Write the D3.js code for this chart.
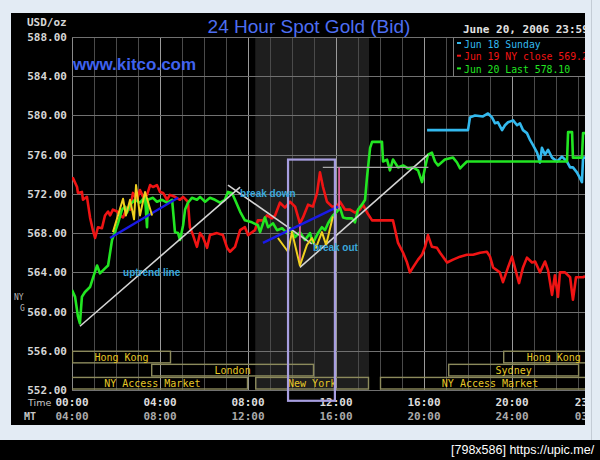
<!DOCTYPE html>
<html><head><meta charset="utf-8">
<script src="https://cdn.jsdelivr.net/npm/d3@7"></script>
<style>html,body{margin:0;padding:0;background:#e3ebf4;}svg{display:block}</style>
</head><body><svg id="c" width="600" height="460"></svg>
<script>
// ---------- data ----------
const yTicks = [588,584,580,576,572,568,564,560,556,552];
const yTickLabels = ["588.00","584.00","580.00","576.00","572.00","568.00","564.00","560.00","556.00","552.00"];
const xTickHours = [0,4,8,12,16,20,23.6];
const xTickLabels = ["00:00","04:00","08:00","12:00","16:00","20:00","23:59"];
const xTickLabels2 = ["04:00","08:00","12:00","16:00","20:00","24:00","03:59"];
const seriesNames = ["Jun 18 Sunday","Jun 19 NY close 569.2","Jun 20 Last 578.10"];
const seriesColors = ["#33b9ee","#f01414","#22e622"];

// Jun 18 Sunday [hour, price]
const jun18 = [[16.14,578.5],[18.0,578.5],[18.09,579.8],[18.32,580.0],[18.68,579.9],[18.91,580.2],[19.09,579.8],[19.23,579.2],[19.36,579.3],[19.55,578.5],[19.68,579.0],[19.82,579.3],[20.05,579.5],[20.23,579.0],[20.36,579.2],[20.5,578.5],[20.68,578.2],[20.82,577.5],[20.95,577.0],[21.14,576.2],[21.27,575.2],[21.36,576.7],[21.5,576.0],[21.64,576.5],[21.82,575.7],[22.05,575.3],[22.27,575.8],[22.5,575.3],[22.64,574.7],[22.77,574.7],[22.95,574.2],[23.09,573.6],[23.18,573.2],[23.23,575.7],[23.32,575.7]];

// Jun 19 [hour, price]
const jun19 = [[0,573.4],[0.05,573.6],[0.23,572.7],[0.27,572.1],[0.45,572.2],[0.5,571.4],[0.68,571.7],[0.82,569.6],[0.95,568.3],[1.05,567.5],[1.18,568.6],[1.36,568.5],[1.5,569.8],[1.64,570.2],[1.73,569.8],[1.86,570.4],[2.05,570.2],[2.18,569.8],[2.32,569.6],[2.5,570.6],[2.64,570.4],[2.77,572.1],[2.95,571.4],[3.09,572.4],[3.23,571.7],[3.41,571.9],[3.55,572.9],[3.68,572.7],[3.86,572.9],[4.0,572.2],[4.14,572.1],[4.32,571.4],[4.45,571.9],[4.68,571.7],[4.91,571.4],[5.05,571.7],[5.27,571.2],[5.36,568.6],[5.5,567.8],[5.68,566.6],[5.82,568.0],[5.95,567.6],[6.14,566.5],[6.27,567.8],[6.59,568.0],[6.86,567.8],[7.05,566.5],[7.18,566.1],[7.41,566.6],[7.64,568.3],[7.86,568.6],[8.0,567.8],[8.32,568.3],[8.45,569.3],[8.68,569.3],[8.86,569.8],[9.09,569.5],[9.23,569.8],[9.45,571.1],[9.68,570.6],[9.91,571.2],[10.14,570.7],[10.36,569.0],[10.5,569.6],[10.73,570.9],[10.95,570.7],[11.14,572.1],[11.27,574.2],[11.41,572.7],[11.59,571.2],[11.82,570.7],[12.05,570.7],[12.18,571.2],[12.41,570.4],[12.64,570.4],[12.86,570.1],[13.09,570.4],[13.23,570.9],[13.41,570.1],[13.64,569.3],[14.59,569.3],[14.82,567.0],[15.05,566.0],[15.23,565.0],[15.36,564.0],[15.5,564.5],[15.73,565.3],[15.91,565.8],[16.05,566.6],[16.18,567.8],[16.36,566.6],[16.59,566.5],[16.73,566.0],[17.05,565.0],[17.32,565.3],[17.64,565.6],[17.95,565.8],[18.23,565.8],[18.55,566.0],[18.86,566.1],[19.0,565.6],[19.14,564.5],[19.45,564.0],[19.59,563.0],[19.82,564.5],[20.0,565.6],[20.14,564.4],[20.32,562.9],[20.5,564.5],[20.68,565.5],[20.91,565.0],[21.05,565.1],[21.27,564.0],[21.5,565.1],[21.64,564.2],[21.82,561.7],[21.95,563.7],[22.09,561.5],[22.18,564.0],[22.41,564.0],[22.64,563.5],[22.77,561.2],[22.91,563.5],[23.23,563.5],[23.32,563.6]];

// Jun 20 [hour, price]
const jun20 = [[0,562.2],[0.14,561.5],[0.27,559.5],[0.36,558.8],[0.45,561.5],[0.59,562.0],[0.82,562.5],[0.95,563.4],[1.14,564.7],[1.27,563.9],[1.5,564.4],[1.64,564.7],[1.73,566.0],[1.82,567.3],[1.95,568.1],[2.09,569.0],[2.27,570.4],[2.41,570.7],[2.5,570.1],[2.64,570.9],[2.86,571.4],[3.09,571.1],[3.32,571.7],[3.41,568.6],[3.45,571.4],[3.68,571.6],[3.86,571.2],[4.09,571.4],[4.32,571.1],[4.55,571.4],[4.68,568.1],[4.82,568.0],[4.91,567.3],[5.05,568.8],[5.14,570.4],[5.27,571.1],[5.45,571.6],[5.68,571.4],[5.82,571.7],[6.05,571.2],[6.27,571.6],[6.5,571.4],[6.73,571.1],[6.95,571.4],[7.09,572.2],[7.27,572.1],[7.41,571.4],[7.64,570.2],[7.86,569.3],[8.18,569.1],[8.45,568.8],[8.55,568.1],[8.77,569.6],[8.91,568.6],[9.14,569.0],[9.32,568.3],[9.55,568.5],[9.77,568.0],[9.91,568.5],[10.14,567.6],[10.36,568.1],[10.59,567.3],[10.82,568.0],[10.95,567.0],[11.18,568.0],[11.36,568.6],[11.5,568.3],[11.64,569.0],[11.86,569.8],[12.05,570.2],[12.18,570.6],[12.32,569.6],[12.5,569.5],[12.73,569.5],[12.86,569.1],[13.0,570.4],[13.18,570.9],[13.32,571.4],[13.41,573.7],[13.55,576.7],[13.64,577.3],[14.09,577.3],[14.14,575.3],[14.32,575.5],[14.45,574.4],[14.59,575.5],[14.82,574.7],[15.05,574.9],[15.27,574.6],[15.5,574.7],[15.73,574.4],[15.91,573.2],[16.05,574.7],[16.18,576.0],[16.36,576.2],[16.5,575.3],[16.64,574.9],[16.95,575.5],[17.32,575.7],[17.5,575.2],[17.64,574.6],[17.77,574.9],[17.95,575.3],[22.5,575.3],[22.55,578.3],[22.73,578.3],[22.77,575.7],[23.18,575.7],[23.23,578.2],[23.32,578.2]];

// trading sessions [row, start hour, end hour]
const sessionNames = ["Hong Kong","London","NY Access Market","New York","NY Access Market","Sydney","Hong Kong"];
const sessionRows  = [0,1,2,2,2,1,0];
const sessionStart = [0,3.6,-0.7,8.33,14.0,17.1,19.6];
const sessionEnd   = [4.5,11.0,8.0,13.5,24.0,23.05,24.2];
const nyShade = [8.33,13.5];

// hand-drawn annotations (hour, price)
const grayLines = [[[0.36,558.5],[7.64,572.7]],[[7.09,572.9],[10.9,566.9]],[[10.36,564.5],[16.18,576.0]]];
const hLine = [[11.4,574.7],[16.2,574.7]];
const pinkLines = [[[12.14,574.7],[12.14,570.4]],[[10.36,569.0],[10.36,564.7]]];
const blueLines = [[[1.73,567.5],[4.82,571.6]],[[8.68,567.0],[12.09,570.7]]];
const yellow1 = [[1.86,568.1],[2.32,571.5],[2.45,569.8],[2.64,571.4],[2.82,569.4],[2.91,572.9],[3.09,569.8],[3.32,572.2],[3.64,569.8]];
const yellow2 = [[9.36,567.5],[9.82,566.1],[10.0,568.1],[10.36,564.7],[10.68,566.8],[10.91,567.5],[11.09,566.5],[11.36,568.1],[11.55,566.8],[11.86,569.7]];
const purpleBox = [[9.82,575.5],[11.95,550.9]];
const noteTexts = ["uptrend line","break down","break out"];
const notePos = [[2.32,564.0],[7.64,572.0],[10.95,566.5]];

// ---------- drawing ----------
const svg = d3.select("#c");
const x = d3.scaleLinear().domain([0,24]).range([72,600]);
const y = d3.scaleLinear().domain([552,588]).range([390,37]);
const mono = "'DejaVu Sans Mono', 'Liberation Mono', monospace";

const defs = svg.append("defs");
defs.append("clipPath").attr("id","frame").append("rect").attr("x",11).attr("y",13).attr("width",574).attr("height",412);
defs.append("clipPath").attr("id","plot").append("rect").attr("x",72).attr("y",30).attr("width",513).attr("height",365);

// page background pieces
svg.append("rect").attr("width",600).attr("height",460).attr("fill","#e3ebf4");
svg.append("line").attr("x1",591.5).attr("x2",591.5).attr("y1",0).attr("y2",440).attr("stroke","#c4ccd6");
svg.append("rect").attr("x",0).attr("y",440).attr("width",600).attr("height",20).attr("fill","#000");
svg.append("text").attr("x",451).attr("y",454).attr("fill","#fff")
  .attr("font-family","'Liberation Sans', Arial, sans-serif").attr("font-size",12.5)
  .text("[798x586] https://upic.me/");

const g = svg.append("g").attr("clip-path","url(#frame)");
g.append("rect").attr("x",11).attr("y",13).attr("width",580).attr("height",412).attr("fill","#000");

// NY shaded session
g.append("rect").attr("x",x(nyShade[0])).attr("y",y(588)).attr("width",x(nyShade[1])-x(nyShade[0])).attr("height",y(552)-y(588)).attr("fill","#1e1e1e");

// grid
const hours = d3.range(0,25,1);
g.append("g").selectAll("line").data(hours).join("line")
  .attr("x1",d=>x(d)+0.5).attr("x2",d=>x(d)+0.5).attr("y1",y(588)).attr("y2",y(552))
  .attr("stroke",d=>d===0?"#8a8a8a":(d%4===0?"#9a9a9a":"#4a4a4a")).attr("stroke-width",1);
g.append("g").selectAll("line").data(yTicks).join("line")
  .attr("x1",x(0)).attr("x2",600).attr("y1",d=>Math.round(y(d))+0.5).attr("y2",d=>Math.round(y(d))+0.5)
  .attr("stroke","#707070").attr("stroke-width",1);

// y axis labels
g.append("g").selectAll("text").data(yTicks).join("text")
  .attr("x",67).attr("y",d=>y(d)).attr("dy","0.36em").attr("text-anchor","end")
  .attr("fill","#d6d6d6").attr("font-family",mono).attr("font-size",11).attr("font-weight","bold")
  .text((d,i)=>yTickLabels[i]);
g.append("text").attr("x",27).attr("y",26).attr("fill","#d6d6d6").attr("font-family",mono)
  .attr("font-size",11).attr("font-weight","bold").text("USD/oz");
g.append("text").attr("x",14).attr("y",300).attr("fill","#b8b8b8").attr("font-family",mono).attr("font-size",8).text("NY");
g.append("text").attr("x",20).attr("y",311).attr("fill","#b8b8b8").attr("font-family",mono).attr("font-size",8).text("G");

// x axis labels
g.append("g").selectAll("text").data(xTickHours).join("text")
  .attr("x",d=>x(d)).attr("y",406).attr("text-anchor","middle")
  .attr("fill","#dcdcdc").attr("font-family",mono).attr("font-size",11).attr("font-weight","bold")
  .text((d,i)=>xTickLabels[i]);
g.append("g").selectAll("text").data(xTickHours).join("text")
  .attr("x",d=>x(d)).attr("y",420).attr("text-anchor","middle")
  .attr("fill","#aaaaaa").attr("font-family",mono).attr("font-size",11).attr("font-weight","bold")
  .text((d,i)=>xTickLabels2[i]);
g.append("text").attr("x",28).attr("y",406).attr("fill","#c8c8c8").attr("font-family","'DejaVu Sans', sans-serif").attr("font-size",9.5).text("Time");
g.append("text").attr("x",24).attr("y",420).attr("fill","#c8c8c8").attr("font-family",mono).attr("font-size",10).attr("font-weight","bold").text("MT");

// session boxes
const rowTop = r => y(556 - r*4/3);
const rowBot = r => y(556 - (r+1)*4/3);
const sess = g.append("g").attr("clip-path","url(#plot)");
sessionNames.forEach((name,i)=>{
  const r = sessionRows[i];
  const x0 = x(sessionStart[i]), x1 = x(sessionEnd[i]);
  sess.append("rect").attr("x",x0+0.5).attr("y",rowTop(r)+0.5).attr("width",x1-x0-1).attr("height",rowBot(r)-rowTop(r)-1.5)
    .attr("fill","none").attr("stroke","#8c8a5c").attr("stroke-width",1.4);
  sess.append("text").attr("x",(x0+x1)/2).attr("y",(rowTop(r)+rowBot(r))/2).attr("dy","0.35em")
    .attr("text-anchor","middle").attr("fill","#e6c826").attr("font-family",mono).attr("font-size",10).text(name);
});

// series
const line = d3.line().x(d=>x(d[0])).y(d=>y(d[1]));
const plot = g.append("g").attr("clip-path","url(#plot)");
[jun18,jun19,jun20].forEach((s,i)=>{
  plot.append("path").datum(s).attr("d",line).attr("fill","none")
    .attr("stroke",seriesColors[i]).attr("stroke-width",2.6).attr("stroke-linejoin","round");
});

// annotations
const ann = g.append("g");
grayLines.forEach(l=>ann.append("path").datum(l).attr("d",line).attr("stroke","#d4d4d4").attr("stroke-width",1.6).attr("fill","none"));
ann.append("path").datum(hLine).attr("d",line).attr("stroke","#a8a8a8").attr("stroke-width",1.4).attr("fill","none");
pinkLines.forEach(l=>ann.append("path").datum(l).attr("d",line).attr("stroke","#e0609c").attr("stroke-width",1.8).attr("fill","none"));
blueLines.forEach(l=>ann.append("path").datum(l).attr("d",line).attr("stroke","#1a1ae6").attr("stroke-width",2.4).attr("fill","none"));
[yellow1,yellow2].forEach(l=>ann.append("path").datum(l).attr("d",line).attr("stroke","#f0d020").attr("stroke-width",2).attr("fill","none").attr("stroke-linejoin","round"));
ann.append("rect").attr("x",x(purpleBox[0][0])).attr("y",y(purpleBox[0][1]))
  .attr("width",x(purpleBox[1][0])-x(purpleBox[0][0])).attr("height",y(purpleBox[1][1])-y(purpleBox[0][1]))
  .attr("fill","none").attr("stroke","#a79ee0").attr("stroke-width",2.2);
noteTexts.forEach((t,i)=>ann.append("text").attr("x",x(notePos[i][0])).attr("y",y(notePos[i][1])).attr("dy","0.35em")
  .attr("fill","#3aa8dc").attr("font-family","'Liberation Sans', Arial, sans-serif").attr("font-weight","bold").attr("font-size",10).text(t));

// titles
g.append("text").attr("x",309).attr("y",33).attr("text-anchor","middle").attr("fill","#4d6ef2")
  .attr("font-family","'Liberation Sans', Arial, sans-serif").attr("font-size",19).text("24 Hour Spot Gold (Bid)");
g.append("text").attr("x",73).attr("y",70).attr("fill","#3f62ee")
  .attr("font-family","'Liberation Sans', Arial, sans-serif").attr("font-size",17).attr("font-weight","bold").text("www.kitco.com");
g.append("text").attr("x",463).attr("y",33).attr("fill","#e2e2e2").attr("font-family",mono)
  .attr("font-size",11).attr("font-weight","bold").text("June 20, 2006 23:59");

// legend
const lg = g.append("g");
lg.append("rect").attr("x",453.5).attr("y",37.5).attr("width",150).attr("height",39).attr("fill","#000").attr("stroke","#7a7a7a");
seriesNames.forEach((n,i)=>{
  lg.append("rect").attr("x",457).attr("y",42+i*12.7).attr("width",4).attr("height",2).attr("fill",seriesColors[i]);
  lg.append("text").attr("x",464).attr("y",47.5+i*12.7).attr("fill",seriesColors[i]).attr("font-family",mono).attr("font-size",9.8).text(n);
});
</script></body></html>
